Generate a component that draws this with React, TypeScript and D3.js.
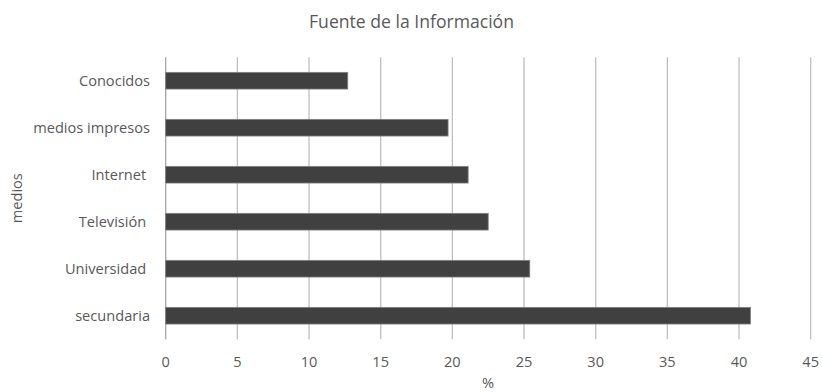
import React from "react";
import * as d3 from "d3";

const categories = ["Conocidos", "medios impresos", "Internet ", "Televisión ", "Universidad ", "secundaria"];
const values = [12.7, 19.7, 21.1, 22.5, 25.4, 40.8];
const xTicks = [0, 5, 10, 15, 20, 25, 30, 35, 40, 45];
const title = "Fuente de la Información";
const xTitle = "%";
const yTitle = "medios";

export default function App() {
  const W = 823, H = 392;
  const left = 165.7, right = 810.7, top = 57.2, bottom = 339.2;
  const x = d3.scaleLinear().domain([0, 45]).range([left, right]);
  const y = d3.scaleBand().domain(categories).range([top, bottom]).paddingInner(0.645).paddingOuter(0.3225);
  const font = "'Open Sans', sans-serif";
  const txt = "#595959";
  return (
    <svg width={W} height={H} style={{ position: "absolute", left: 0, top: 0, background: "#fff" }} fontFamily={font}>
      <rect width={W} height={H} fill="#fff" />
      {xTicks.map((t) => (
        <line key={t} x1={x(t)} x2={x(t)} y1={top} y2={bottom} stroke={t === 0 ? "#a6a6a6" : "#bfbfbf"} strokeWidth={1.3} />
      ))}
      {categories.map((c, i) => (
        <rect key={c} x={x(0)} y={y(c)!} width={x(values[i]) - x(0)} height={y.bandwidth()} fill="#404040" stroke="#7f7f7f" strokeWidth={0.8} />
      ))}
      {xTicks.map((t) => (
        <text key={t} x={x(t)} y={366.5} textAnchor="middle" fontSize={14.6} fill={txt}>{t}</text>
      ))}
      {categories.map((c) => (
        <text key={c} x={150} y={y(c)! + y.bandwidth() / 2 + 5} textAnchor="end" fontSize={14.6} fill={txt} style={{ whiteSpace: "pre" }}>{c}</text>
      ))}
      <text x={W / 2} y={28} textAnchor="middle" fontSize={17.6} fill={txt}>{title}</text>
      <text x={488} y={388} textAnchor="middle" fontSize={14.6} fill={txt}>{xTitle}</text>
      <text transform={`translate(22, ${(top + bottom) / 2}) rotate(-90)`} textAnchor="middle" fontSize={14.6} fill={txt}>{yTitle}</text>
    </svg>
  );
}
